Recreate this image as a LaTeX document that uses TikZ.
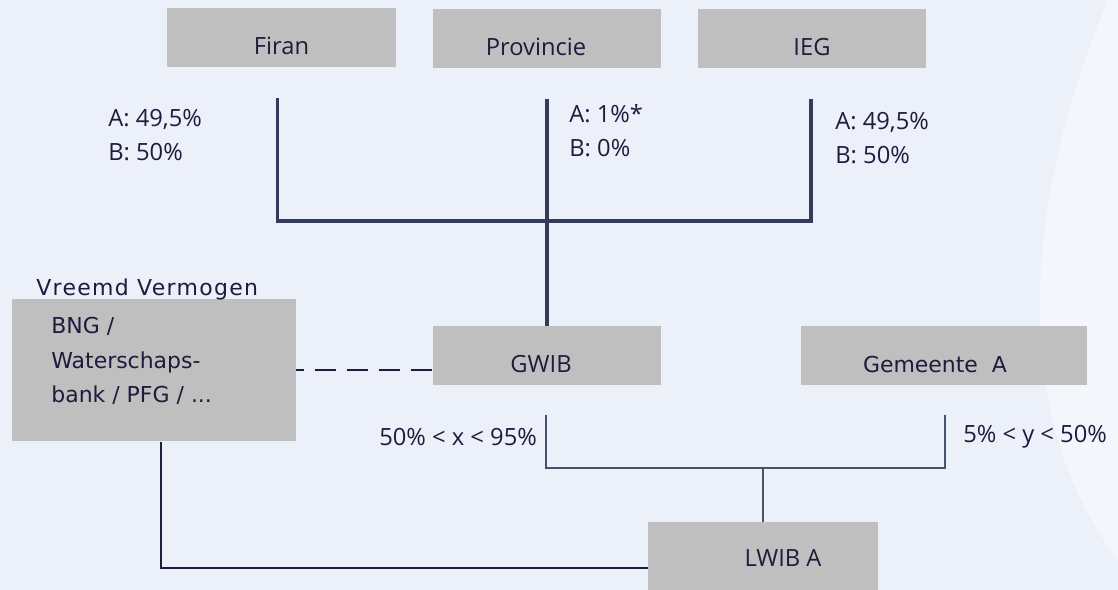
\documentclass[tikz,border=0pt]{standalone}
\usepackage{fontspec}
\setmainfont{Open Sans}
\newfontfamily\widefont{DejaVu Sans}
\usepackage{tikz}
\usetikzlibrary{positioning, calc}
\definecolor{bgblue}{HTML}{ECF0F8}
\definecolor{bglight}{HTML}{F3F6FB}
\definecolor{boxgray}{HTML}{BFBFBF}
\definecolor{inknavy}{HTML}{1E1C3D}
\definecolor{stemblue}{HTML}{323B57}
\definecolor{slate}{HTML}{44546A}
\tikzstyle{box} = [rectangle, fill=boxgray, inner sep=0pt, minimum width=4.58cm, minimum height=1.18cm, text=inknavy, text height=0.68cm, text depth=0pt, font=\fontsize{13.5}{16}\selectfont]
\tikzstyle{share} = [inner sep=0pt, anchor=base west, align=left, text=inknavy, font=\fontsize{13.5}{19.35}\selectfont]
\tikzstyle{wide} = [font=\widefont\fontsize{12.5}{19.9}\selectfont]
\tikzstyle{stem} = [-, draw=stemblue, line width=2pt]
\tikzstyle{link} = [-, draw=slate, line width=1.4pt]
\tikzstyle{loan} = [-, draw=inknavy, line width=1pt]
\tikzstyle{credit} = [-, draw=inknavy, line width=1.1pt, dash pattern=on 12pt off 6.3pt]

\begin{document}
\begin{tikzpicture}[x=0.02cm, y=-0.02cm]

    \useasboundingbox (0, 0) rectangle (1118, 590);
    \fill [bgblue] (0, 0) rectangle (1118, 590);
    \fill [bglight] (1108, 0) .. controls (1036, 170) and (996, 400) .. (1118, 560) -- (1118, 0) -- cycle;

    \node (firan) [box] at (281.5, 38) {Firan};
    \node (prov) [box] at (547, 39) {Provincie\hspace*{0.44cm}};
    \node (ieg) [box] at (812, 39) {IEG};
    \node (gwib) [box] at (547, 355.5) {GWIB\hspace*{0.24cm}};
    \node (gem) [box, wide, minimum width=5.72cm] at (944, 355.5) {Gemeente~~A\hspace*{0.36cm}};
    \node (vv) [box, minimum width=5.68cm, minimum height=2.85cm] at (154, 370) {};
    \node (lwib) [box, minimum width=4.6cm, minimum height=1.36cm, text height=0.44cm] at (763, 556) {\hspace*{0.8cm}LWIB A};

    % base of a two-line label is its last line
    \node (firanshare) [share] at (108, 161) {A: 49,5\%\\B: 50\%};
    \node (provshare) [share] at (569, 157) {A: 1\%*\\B: 0\%};
    \node (iegshare) [share] at (835, 164) {A: 49,5\%\\B: 50\%};
    \node (vvhead) [share, wide] at (36, 296) {\addfontfeature{LetterSpace=6}Vreemd Vermogen};
    \node (vvtext) [share, wide] at (51, 403) {BNG /\\Waterschaps-\\bank~/ PFG~/ ...};
    \node (gwibshare) [share] at (379, 446) {50\% < x < 95\%};
    \node (gemshare) [share] at (963, 443) {5\% < y < 50\%};

    \coordinate (hub) at (547, 221);
    \coordinate (fork) at (763, 468);

    \draw [stem] ($(firan.south)+(-4, 30)$) |- (hub) -| ($(ieg.south)+(-1, 30)$);
    \draw [stem] ($(prov.south)+(0, 30)$) -- (gwib.north);

    \draw [link] ($(gwib.south)+(-1, 30)$) |- (fork) -| ($(gem.south)+(1, 30)$);
    \draw [link] (fork) -- (lwib.north);

    \draw [loan] ($(vv.south)+(7, 0)$) |- ($(lwib.west)+(0, 12)$);
    \draw [credit] (vv.east -| gwib.west) -- (vv.east);

\end{tikzpicture}
\end{document}
